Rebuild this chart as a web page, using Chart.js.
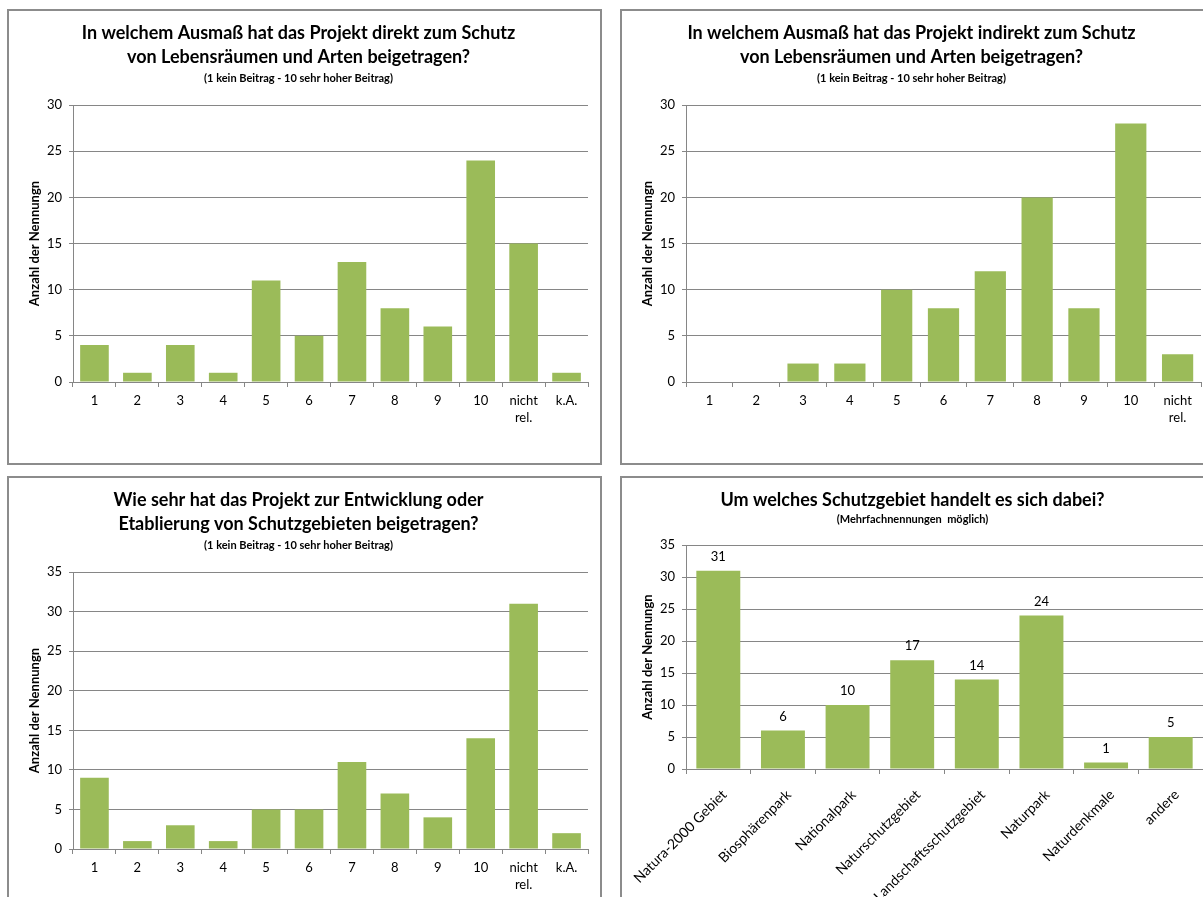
<!DOCTYPE html>
<html>
<head>
<meta charset="utf-8">
<script src="https://cdn.jsdelivr.net/npm/chart.js@4.4.0/dist/chart.umd.min.js"></script>
<style>
    html, body { margin: 0; padding: 0; background: #fff; overflow: hidden; width: 1203px; height: 897px; }
    .panel { position: absolute; border: 2px solid #8c8c8c; background: #fff; }
    .panel canvas { display: block; }
</style>
</head>
<body>
<div class="panel" style="left:7px; top:9px; width:591px; height:452px;"><canvas id="chartDirekt"></canvas></div>
<div class="panel" style="left:620px; top:9px; width:591px; height:452px;"><canvas id="chartIndirekt"></canvas></div>
<div class="panel" style="left:7px; top:476px; width:591px; height:452px;"><canvas id="chartEntwicklung"></canvas></div>
<div class="panel" style="left:620px; top:476px; width:591px; height:452px;"><canvas id="chartGebiete"></canvas></div>

<script>
// Kategorien
const scaleLabels = ['1', '2', '3', '4', '5', '6', '7', '8', '9', '10', ['nicht', 'rel.'], 'k.A.'];
const scaleLabelsNoKA = ['1', '2', '3', '4', '5', '6', '7', '8', '9', '10', ['nicht', 'rel.']];
const gebietLabels = ['Natura-2000 Gebiet', 'Biosphärenpark', 'Nationalpark', 'Naturschutzgebiet',
    'Landschaftsschutzgebiet', 'Naturpark', 'Naturdenkmale', 'andere'];

// Werte (Anzahl der Nennungen)
const direktValues = [4, 1, 4, 1, 11, 5, 13, 8, 6, 24, 15, 1];
const indirektValues = [0, 0, 2, 2, 10, 8, 12, 20, 8, 28, 3];
const entwicklungValues = [9, 1, 3, 1, 5, 5, 11, 7, 4, 14, 31, 2];
const gebietValues = [31, 6, 10, 17, 14, 24, 1, 5];

// Achsen
const yMaxSmall = 30;
const yMaxLarge = 35;
const yStep = 5;

const FONT = 'Lato, "Open Sans", sans-serif';
const GREEN = '#9bbb59';
const GRID = '#868686';

// draws the value above each bar (only used for the last chart)
const valueLabelPlugin = {
    id: 'valueLabels',
    afterDatasetsDraw(chart, args, opts) {
        if (!opts || !opts.show) return;
        const ctx = chart.ctx;
        const meta = chart.getDatasetMeta(0);
        const data = chart.data.datasets[0].data;
        ctx.save();
        ctx.font = '13px ' + FONT;
        ctx.fillStyle = '#000';
        ctx.textAlign = 'center';
        ctx.textBaseline = 'middle';
        meta.data.forEach((bar, i) => {
            ctx.fillText(String(data[i]), bar.x, bar.y - 14);
        });
        ctx.restore();
    }
};

function makeChart(id, labels, values, cfg) {
    const ctx = document.getElementById(id).getContext('2d');
    return new Chart(ctx, {
        type: 'bar',
        data: {
            labels: labels,
            datasets: [{
                data: values,
                backgroundColor: GREEN,
                borderWidth: 0,
                categoryPercentage: 1,
                barPercentage: cfg.barPct
            }]
        },
        plugins: [valueLabelPlugin],
        options: {
            responsive: true,
            maintainAspectRatio: false,
            animation: false,
            layout: { padding: { left: 0, right: cfg.padRight, top: 0, bottom: 0 } },
            plugins: {
                legend: { display: false },
                tooltip: { enabled: false },
                valueLabels: { show: cfg.showValues },
                title: {
                    display: true,
                    text: cfg.title,
                    color: '#000',
                    font: { family: FONT, size: 18, weight: 'bold', lineHeight: 1.333 },
                    padding: { top: 10, bottom: 0 }
                },
                subtitle: {
                    display: true,
                    text: cfg.subtitle,
                    color: '#000',
                    font: { family: FONT, size: 11, weight: 'bold', lineHeight: 1.1 },
                    padding: { top: cfg.subTop, bottom: cfg.subBottom }
                }
            },
            scales: {
                x: {
                    offset: true,
                    border: { color: GRID, width: 1 },
                    grid: { display: true, drawOnChartArea: false, drawTicks: true, tickLength: 5, color: GRID, offset: true },
                    ticks: {
                        color: '#000',
                        font: { family: FONT, size: cfg.xFont, lineHeight: 1.3 },
                        padding: cfg.xPad,
                        labelOffset: cfg.xShift,
                        autoSkip: false,
                        minRotation: cfg.rotate,
                        maxRotation: cfg.rotate
                    },
                    afterFit: scale => {
                        scale.height = cfg.xHeight;
                        // keep the plot area where it is, even if rotated labels stick out
                        scale.paddingLeft = 0;
                        scale.paddingRight = 0;
                    }
                },
                y: {
                    min: 0,
                    max: cfg.yMax,
                    border: { color: GRID, width: 1 },
                    grid: { color: GRID, lineWidth: 1, tickLength: 4 },
                    ticks: {
                        stepSize: yStep,
                        color: '#000',
                        padding: 7,
                        font: { family: FONT, size: 13 }
                    },
                    title: {
                        display: true,
                        text: 'Anzahl der Nennungn',
                        color: '#000',
                        font: { family: FONT, size: 13, weight: 'bold', lineHeight: 1.2 },
                        padding: { top: 18, bottom: 0 }
                    },
                    afterFit: scale => { scale.width = 64; }
                }
            }
        }
    });
}

const subScale = '(1 kein Beitrag - 10 sehr hoher Beitrag)';

makeChart('chartDirekt', scaleLabels, direktValues, {
    title: ['In welchem Ausmaß hat das Projekt direkt zum Schutz', 'von Lebensräumen und Arten beigetragen?'],
    subtitle: subScale, subTop: 3, subBottom: 21,
    yMax: yMaxSmall, xHeight: 81, padRight: 12, rotate: 0, xFont: 13, xPad: 5, xShift: 0, barPct: 0.667, showValues: false
});

makeChart('chartIndirekt', scaleLabelsNoKA, indirektValues, {
    title: ['In welchem Ausmaß hat das Projekt indirekt zum Schutz', 'von Lebensräumen und Arten beigetragen?'],
    subtitle: subScale, subTop: 3, subBottom: 21,
    yMax: yMaxSmall, xHeight: 81, padRight: 12, rotate: 0, xFont: 13, xPad: 5, xShift: 0, barPct: 0.667, showValues: false
});

makeChart('chartEntwicklung', scaleLabels, entwicklungValues, {
    title: ['Wie sehr hat das Projekt zur Entwicklung oder', 'Etablierung von Schutzgebieten beigetragen?'],
    subtitle: subScale, subTop: 3, subBottom: 21,
    yMax: yMaxLarge, xHeight: 81, padRight: 12, rotate: 0, xFont: 13, xPad: 5, xShift: 0, barPct: 0.667, showValues: false
});

makeChart('chartGebiete', gebietLabels, gebietValues, {
    title: 'Um welches Schutzgebiet handelt es sich dabei?',
    subtitle: '(Mehrfachnennungen  möglich)', subTop: 1, subBottom: 20,
    yMax: yMaxLarge, xHeight: 161, padRight: 10, rotate: 45, xFont: 14, xPad: 12, xShift: 6, barPct: 0.68, showValues: true
});
</script>
</body>
</html>
